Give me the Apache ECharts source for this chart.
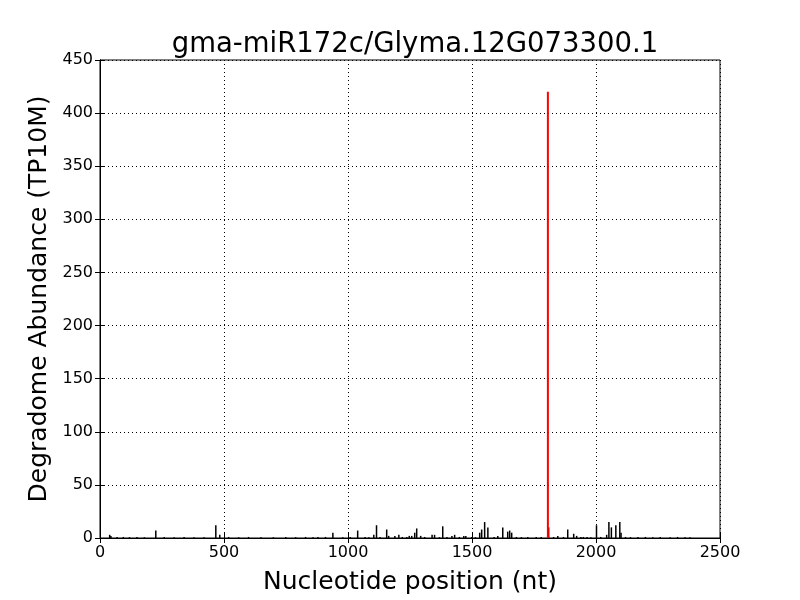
<!DOCTYPE html>
<html>
<head>
<meta charset="utf-8">
<script src="https://cdn.jsdelivr.net/npm/echarts@6/dist/echarts.min.js"></script>
<style>html,body{margin:0;padding:0;background:#fff}#c{width:800px;height:600px}</style>
</head>
<body>
<div id="c"></div>
<script>
var titleText = "gma-miR172c/Glyma.12G073300.1";
var xTicks = [0, 500, 1000, 1500, 2000, 2500];
var yTicks = [0, 50, 100, 150, 200, 250, 300, 350, 400, 450];
// black bars: nucleotide positions and abundances
var blackPos = [40,45,226,468,484,880,940,1040,1105,1116,1157,1165,1190,1206,1238,1248,1258,1270,1278,1294,1340,1350,1383,1420,1431,1468,1476,1532,1540,1552,1565,1605,1625,1645,1653,1661,1726,1810,1847,1887,1911,1923,1940,1950,2003,2044,2053,2063,2081,2097,2102,
  70,95,120,150,180,260,300,340,380,420,520,560,600,650,700,750,790,830,860,910,980,1010,1070,1085,1130,1220,1310,1370,1400,1450,1500,1515,1590,1680,1700,1760,1780,1830,1870,1965,1980,2020,2120,2140,2170,2200,2230,2260,2300,2330,2360,2380];
var blackVal = [3,2,7,12,3,1,5,7,3,12,8,2,2,3,1,2,2,5,9,2,3,3,11,2,3,2,2,5,8,15,10,2,10,6,7,5,1,10,2,8,4,2,1,1,12,3,15,10,12,15,5,
  1,1,0.8,1,0.7,1,0.8,1,0.7,0.8,1,0.7,1,0.8,0.7,1,0.8,1,0.7,1,0.8,1,1,0.8,1,1,1,0.8,1,1,1,0.8,1,1,0.8,1,1,1,1,1,0.8,1,1,0.8,1,1,0.8,1,0.8,1,0.7,0.8];
// red bar: cleavage site
var redPos = [1806];
var redVal = [420];

var blackData = blackPos.map(function(p,i){return [p, blackVal[i]];});
var redData = redPos.map(function(p,i){return [p, redVal[i]];});

var font = "DejaVu Sans";
var chart = echarts.init(document.getElementById('c'), null, {renderer:'canvas'});
var axisCommon = {
  type:'value',
  axisLine:{show:true, lineStyle:{color:'#000', width:1}},
  axisTick:{show:true, inside:true, length:5, lineStyle:{color:'#000'}},
  splitLine:{show:false}
};
function plain(v){ return String(v); }
chart.setOption({
  animation:false,
  backgroundColor:'#fff',
  title:{text:titleText, left:410, textAlign:'center', top:26, textStyle:{fontFamily:font, fontSize:27.5, fontWeight:'normal', color:'#000'}},
  grid:{left:100, right:80, top:60, bottom:60, show:true, borderColor:'#000', borderWidth:1},
  xAxis:[
    Object.assign({}, axisCommon, {min:xTicks[0], max:xTicks[xTicks.length-1], interval:500, position:'bottom',
      name:'Nucleotide position (nt)', nameLocation:'middle', nameGap:32,
      nameTextStyle:{fontFamily:font, fontSize:25, color:'#000'},
      axisLabel:{fontFamily:font, fontSize:16, color:'#000', margin:7, formatter:plain},
      splitLine:{show:true, lineStyle:{color:'#000', type:[1,3], width:1}}}),
    Object.assign({}, axisCommon, {min:xTicks[0], max:xTicks[xTicks.length-1], interval:500, position:'top', axisLabel:{show:false}})
  ],
  yAxis:[
    Object.assign({}, axisCommon, {min:yTicks[0], max:yTicks[yTicks.length-1], interval:50, position:'left',
      name:'Degradome Abundance (TP10M)', nameLocation:'middle', nameGap:41,
      nameTextStyle:{fontFamily:font, fontSize:25, color:'#000'},
      axisLabel:{fontFamily:font, fontSize:16, color:'#000', margin:7, formatter:plain},
      splitLine:{show:true, lineStyle:{color:'#000', type:[1,3], width:1}}}),
    Object.assign({}, axisCommon, {min:yTicks[0], max:yTicks[yTicks.length-1], interval:50, position:'right', axisLabel:{show:false}})
  ],
  series:[
    {type:'bar', xAxisIndex:0, yAxisIndex:0, data:blackData, barWidth:1.5, barGap:'-100%', itemStyle:{color:'#000'}, silent:true},
    {type:'bar', xAxisIndex:0, yAxisIndex:0, data:redData, barWidth:2, barGap:'-100%', itemStyle:{color:'#ff0000'}, silent:true}
  ]
});
</script>
</body>
</html>
